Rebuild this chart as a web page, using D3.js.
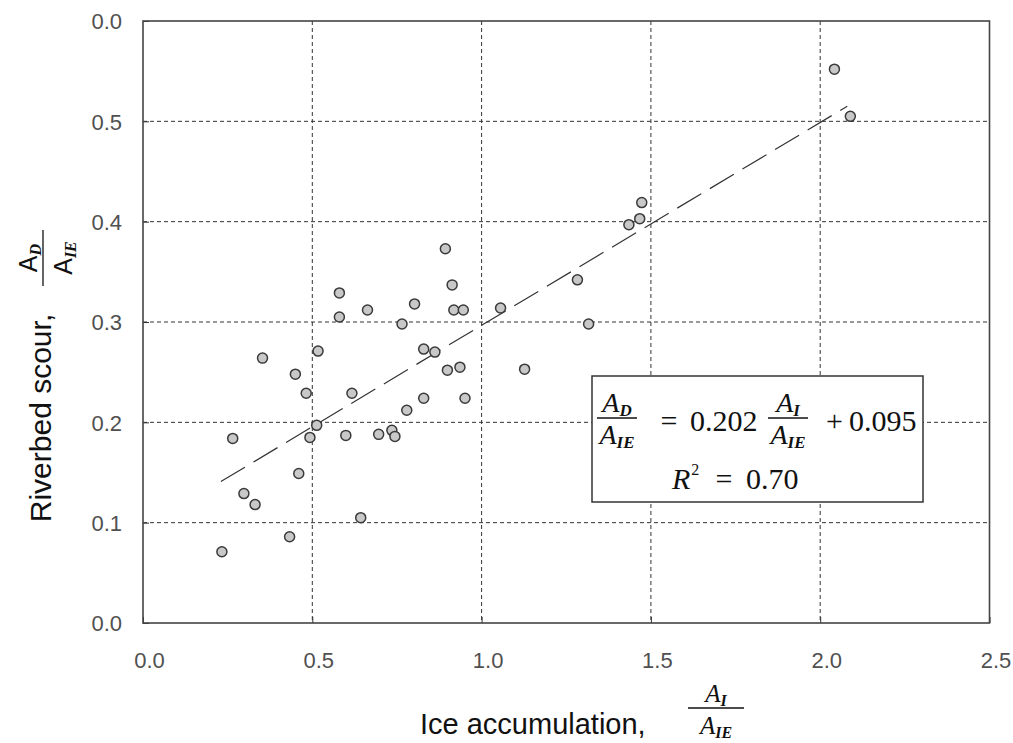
<!DOCTYPE html>
<html>
<head>
<meta charset="utf-8">
<script src="https://cdn.jsdelivr.net/npm/d3@7/dist/d3.min.js"></script>
<style>
  html, body { margin: 0; padding: 0; background: #fff; }
  svg { display: block; }
</style>
</head>
<body>
<script>
// ---- data ----
const xValues = [0.233,0.265,0.298,0.331,0.353,0.433,0.450,0.460,0.482,0.493,0.513,0.517,0.580,0.580,0.599,0.617,0.643,0.663,0.696,0.735,0.744,0.765,0.779,0.802,0.829,0.829,0.862,0.893,0.899,0.913,0.918,0.946,0.936,0.951,1.056,1.127,1.283,1.316,1.435,1.467,1.473,2.042,2.089];
const yValues = [0.071,0.184,0.129,0.118,0.264,0.086,0.248,0.149,0.229,0.185,0.197,0.271,0.305,0.329,0.187,0.229,0.105,0.312,0.188,0.192,0.186,0.298,0.212,0.318,0.273,0.224,0.270,0.373,0.252,0.337,0.312,0.312,0.255,0.224,0.314,0.253,0.342,0.298,0.397,0.403,0.419,0.552,0.505];
const trendX = [0.23, 2.08];
const trendY = [0.141, 0.515];
const xTicks = [0.0, 0.5, 1.0, 1.5, 2.0, 2.5];
const xTickLabels = ["0.0", "0.5", "1.0", "1.5", "2.0", "2.5"];
const yTicks = [0.0, 0.1, 0.2, 0.3, 0.4, 0.5, 0.6];
const yTickLabels = ["0.0", "0.1", "0.2", "0.3", "0.4", "0.5", "0.0"];
const xGrid = [0.5, 1.0, 1.5, 2.0];
const yGrid = [0.1, 0.2, 0.3, 0.4, 0.5];

// ---- layout ----
const W = 1013, H = 743;
const L = 143, R = 989.5, T = 21, B = 623;

const svg = d3.select("body").append("svg").attr("width", W).attr("height", H);
const x = d3.scaleLinear().domain([0, 2.5]).range([L, R]);
const y = d3.scaleLinear().domain([0, 0.6]).range([B, T]);

const sans = "'Liberation Sans', Arial, sans-serif";
const serif = "'Liberation Serif', 'Times New Roman', serif";

// grid
const grid = svg.append("g");
grid.selectAll("line.gx").data(xGrid).join("line")
  .attr("x1", d => x(d)).attr("x2", d => x(d))
  .attr("y1", T).attr("y2", B)
  .attr("stroke", "#333").attr("stroke-width", 1).attr("stroke-dasharray", "4,3");
grid.selectAll("line.gy").data(yGrid).join("line")
  .attr("x1", L).attr("x2", R)
  .attr("y1", d => y(d)).attr("y2", d => y(d))
  .attr("stroke", "#333").attr("stroke-width", 1).attr("stroke-dasharray", "4,3");

// axes (inward ticks)
const xAxis = svg.append("g").attr("transform", `translate(0,${B})`)
  .call(d3.axisBottom(x).tickValues(xTicks).tickFormat((d, i) => xTickLabels[i]).tickSize(-6).tickPadding(0));
xAxis.select(".domain").remove();
xAxis.selectAll(".tick line").attr("stroke", "#333").attr("stroke-width", 1);
xAxis.selectAll(".tick text")
  .attr("font-family", sans).attr("font-size", 22).attr("fill", "#505050")
  .attr("dy", null).attr("y", 45).attr("x", 6);

const yAxis = svg.append("g").attr("transform", `translate(${L},0)`)
  .call(d3.axisLeft(y).tickValues(yTicks).tickFormat((d, i) => yTickLabels[i]).tickSize(-6).tickPadding(0));
yAxis.select(".domain").remove();
yAxis.selectAll(".tick line").attr("stroke", "#333").attr("stroke-width", 1);
yAxis.selectAll(".tick text")
  .attr("font-family", sans).attr("font-size", 22).attr("fill", "#505050")
  .attr("x", -21).attr("dy", "0.36em");

// frame
svg.append("rect").attr("x", L).attr("y", T).attr("width", R - L).attr("height", B - T)
  .attr("fill", "none").attr("stroke", "#444").attr("stroke-width", 1.6);

// trend line
svg.append("line")
  .attr("x1", x(trendX[0])).attr("y1", y(trendY[0]))
  .attr("x2", x(trendX[1])).attr("y2", y(trendY[1]))
  .attr("stroke", "#333").attr("stroke-width", 1.2).attr("stroke-dasharray", "28,10");

// points
svg.append("g").selectAll("circle").data(xValues.map((v, i) => [v, yValues[i]])).join("circle")
  .attr("cx", d => x(d[0])).attr("cy", d => y(d[1])).attr("r", 5)
  .attr("fill", "#c8c8c8").attr("stroke", "#3a3a3a").attr("stroke-width", 1.5);

// fraction helper: A with subscript
function frac(g, cx, lineY, halfW, sub1, sub2, size, subSize, sansA, denOff) {
  g.append("line").attr("x1", cx - halfW).attr("x2", cx + halfW)
    .attr("y1", lineY).attr("y2", lineY).attr("stroke", "#111").attr("stroke-width", 1.3);
  const num = g.append("text").attr("x", cx).attr("y", lineY - 6).attr("text-anchor", "middle")
    .attr("fill", "#111");
  num.append("tspan").attr("font-family", sansA ? sans : serif).attr("font-style", sansA ? "normal" : "italic")
    .attr("font-size", size).text("A");
  num.append("tspan").attr("font-family", serif).attr("font-style", "italic").attr("font-weight", "bold")
    .attr("font-size", subSize).attr("dy", 4).text(sub1);
  const den = g.append("text").attr("x", cx).attr("y", lineY + (denOff || 26)).attr("text-anchor", "middle")
    .attr("fill", "#111");
  den.append("tspan").attr("font-family", sansA ? sans : serif).attr("font-style", sansA ? "normal" : "italic")
    .attr("font-size", size).text("A");
  den.append("tspan").attr("font-family", serif).attr("font-style", "italic").attr("font-weight", "bold")
    .attr("font-size", subSize).attr("dy", 4).text(sub2);
}

// x-axis title
svg.append("text").attr("x", 420).attr("y", 734)
  .attr("font-family", sans).attr("font-size", 29).attr("fill", "#111")
  .text("Ice accumulation,");
frac(svg.append("g"), 716, 708, 28, "I", "IE", 25, 16, false, 26);

// y-axis title
const yt = svg.append("g").attr("transform", "translate(51,418) rotate(-90)");
yt.append("text").attr("x", 0).attr("y", 0).attr("text-anchor", "middle")
  .attr("font-family", sans).attr("font-size", 30).attr("fill", "#111")
  .text("Riverbed scour,");
frac(svg.append("g").attr("transform", "translate(43,258) rotate(-90)"), 0, 0, 28, "D", "IE", 25, 16, true, 29);

// equation box
const bx = svg.append("g");
bx.append("rect").attr("x", 592).attr("y", 376).attr("width", 331).attr("height", 126)
  .attr("fill", "#fff").attr("stroke", "#333").attr("stroke-width", 1.5);
frac(bx, 617, 418, 20, "D", "IE", 28, 17, false, 26);
bx.append("text").attr("x", 669).attr("y", 431).attr("text-anchor", "middle")
  .attr("font-family", serif).attr("font-size", 30).attr("fill", "#111").text("=");
bx.append("text").attr("x", 690).attr("y", 431)
  .attr("font-family", serif).attr("font-size", 30).attr("fill", "#111").text("0.202");
frac(bx, 788, 418, 20, "I", "IE", 28, 17, false, 26);
bx.append("text").attr("x", 826).attr("y", 431)
  .attr("font-family", serif).attr("font-size", 30).attr("fill", "#111").text("+\u20090.095");
const r2 = bx.append("text").attr("x", 672).attr("y", 489)
  .attr("font-family", serif).attr("font-size", 30).attr("fill", "#111");
r2.append("tspan").attr("font-style", "italic").text("R");
r2.append("tspan").attr("font-size", 16).attr("dy", -14).attr("dx", 1).text("2");
bx.append("text").attr("x", 724).attr("y", 489).attr("text-anchor", "middle")
  .attr("font-family", serif).attr("font-size", 30).attr("fill", "#111").text("=");
bx.append("text").attr("x", 746).attr("y", 489)
  .attr("font-family", serif).attr("font-size", 30).attr("fill", "#111").text("0.70");
</script>
</body>
</html>
